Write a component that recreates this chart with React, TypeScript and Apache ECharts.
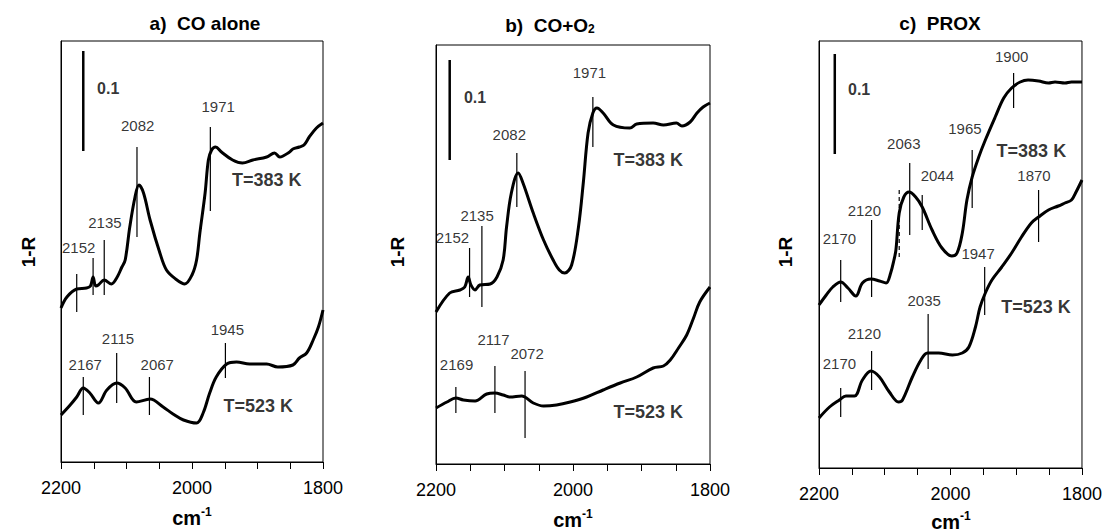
import React, { useEffect, useRef } from "react";
import * as echarts from "echarts";

type P = [number, number];
// ---- Panel a) CO alone ----
const curveA383: P[] = [
  [2200, 0.154], [2191, 0.165], [2176, 0.173], [2161, 0.174], [2155, 0.176], [2151, 0.185], [2147, 0.176],
  [2143, 0.177], [2134, 0.182], [2123, 0.178], [2115, 0.184], [2107, 0.195], [2102, 0.202], [2095, 0.235],
  [2087, 0.265], [2081, 0.277], [2074, 0.269], [2064, 0.242], [2049, 0.209], [2039, 0.192], [2025, 0.183],
  [2011, 0.178], [2000, 0.187], [1993, 0.202], [1988, 0.229], [1980, 0.269], [1975, 0.302], [1970, 0.312],
  [1964, 0.315], [1955, 0.31], [1938, 0.302], [1923, 0.299], [1907, 0.302], [1886, 0.305], [1874, 0.309],
  [1866, 0.305], [1851, 0.31], [1846, 0.313], [1836, 0.315], [1829, 0.317], [1821, 0.325], [1810, 0.334],
  [1800, 0.339],
];
const curveA523: P[] = [
  [2200, 0.047], [2186, 0.057], [2176, 0.065], [2166, 0.074], [2156, 0.069], [2143, 0.059], [2130, 0.072],
  [2115, 0.079], [2102, 0.074], [2085, 0.06], [2064, 0.063], [2044, 0.055], [2029, 0.048], [2013, 0.042],
  [1993, 0.039], [1983, 0.049], [1973, 0.069], [1963, 0.085], [1947, 0.098], [1932, 0.1], [1912, 0.098],
  [1886, 0.098], [1869, 0.095], [1846, 0.097], [1836, 0.104], [1825, 0.109], [1815, 0.122], [1807, 0.135],
  [1800, 0.152],
];
const markersA: [number, number, number][] = [
  [2176, 0.188, 0.15], [2151, 0.204, 0.167], [2134, 0.222, 0.167], [2084, 0.315, 0.225], [1972, 0.335, 0.251],
  [2166, 0.085, 0.047], [2115, 0.109, 0.059], [2065, 0.085, 0.047], [1949, 0.119, 0.084],
];
const peakLabelsA: [string, number, number][] = [
  ["2152", 2173, 0.215], ["2135", 2133, 0.24], ["2082", 2083, 0.337], ["1971", 1960, 0.356],
  ["2167", 2163, 0.098], ["2115", 2113, 0.124], ["2067", 2053, 0.098], ["1945", 1946, 0.133],
];
const tagsA: [string, number, number][] = [["T=383 K", 1886, 0.282], ["T=523 K", 1899, 0.056], ["0.1", 2128, 0.374]];
const scaleBarA: [number, number, number] = [2166, 0.411, 0.311];

// ---- Panel b) CO+O2 ----
const curveB383: P[] = [
  [2200, 0.152], [2180, 0.171], [2165, 0.174], [2158, 0.177], [2153, 0.187], [2149, 0.179], [2143, 0.174],
  [2136, 0.179], [2121, 0.18], [2111, 0.187], [2102, 0.204], [2097, 0.237], [2090, 0.271], [2080, 0.291],
  [2073, 0.281], [2058, 0.251], [2043, 0.224], [2029, 0.204], [2020, 0.194], [2012, 0.191], [2002, 0.199],
  [1992, 0.237], [1985, 0.281], [1978, 0.331], [1971, 0.351], [1965, 0.356], [1956, 0.351], [1941, 0.339],
  [1917, 0.336], [1907, 0.34], [1883, 0.341], [1868, 0.339], [1849, 0.341], [1841, 0.338], [1829, 0.342],
  [1819, 0.351], [1810, 0.357], [1800, 0.361],
];
const curveB523: P[] = [
  [2200, 0.056], [2184, 0.062], [2171, 0.066], [2160, 0.064], [2143, 0.063], [2126, 0.07], [2114, 0.071],
  [2102, 0.069], [2092, 0.067], [2075, 0.068], [2058, 0.061], [2043, 0.058], [2024, 0.059], [2004, 0.062],
  [1980, 0.067], [1956, 0.074], [1931, 0.081], [1907, 0.087], [1883, 0.096], [1868, 0.098], [1858, 0.104],
  [1846, 0.116], [1834, 0.129], [1824, 0.146], [1815, 0.162], [1800, 0.177],
];
const markersB: [number, number, number][] = [
  [2151, 0.216, 0.167], [2133, 0.238, 0.157], [2082, 0.311, 0.257], [1971, 0.367, 0.317],
  [2171, 0.077, 0.051], [2114, 0.098, 0.051], [2070, 0.093, 0.026],
];
const peakLabelsB: [string, number, number][] = [
  ["2152", 2176, 0.227], ["2135", 2140, 0.249], ["2082", 2093, 0.33], ["1971", 1976, 0.392],
  ["2169", 2170, 0.1], ["2117", 2116, 0.125], ["2072", 2067, 0.111],
];
const tagsB: [string, number, number][] = [["T=383 K", 1890, 0.304], ["T=523 K", 1890, 0.052], ["0.1", 2143, 0.367]];
const scaleBarB: [number, number, number] = [2180, 0.404, 0.304];

// ---- Panel c) PROX ----
const curveC383: P[] = [
  [2200, 0.163], [2189, 0.173], [2179, 0.181], [2167, 0.186], [2156, 0.18], [2144, 0.172], [2134, 0.185],
  [2121, 0.189], [2108, 0.187], [2098, 0.185], [2091, 0.195], [2086, 0.208], [2083, 0.218], [2078, 0.255],
  [2071, 0.271], [2063, 0.276], [2053, 0.271], [2043, 0.261], [2028, 0.238], [2013, 0.22], [1998, 0.212],
  [1990, 0.215], [1982, 0.235], [1975, 0.268], [1967, 0.291], [1957, 0.311], [1947, 0.328], [1932, 0.351],
  [1919, 0.37], [1907, 0.38], [1894, 0.386], [1882, 0.388], [1866, 0.387], [1851, 0.385], [1841, 0.386],
  [1826, 0.385], [1816, 0.386], [1800, 0.386],
];
const curveC523: P[] = [
  [2200, 0.05], [2184, 0.061], [2169, 0.068], [2159, 0.072], [2146, 0.072], [2134, 0.088], [2121, 0.097],
  [2108, 0.091], [2093, 0.076], [2079, 0.066], [2073, 0.068], [2058, 0.091], [2045, 0.108], [2035, 0.115],
  [2018, 0.115], [1997, 0.113], [1982, 0.115], [1972, 0.121], [1962, 0.141], [1955, 0.161], [1947, 0.175],
  [1937, 0.188], [1922, 0.201], [1907, 0.215], [1892, 0.231], [1877, 0.245], [1866, 0.251], [1851, 0.258],
  [1836, 0.262], [1826, 0.265], [1816, 0.268], [1809, 0.276], [1800, 0.288],
];
const markersC: [number, number, number][] = [
  [2167, 0.208, 0.166], [2120, 0.248, 0.171], [2062, 0.305, 0.233], [2043, 0.273, 0.238], [1967, 0.318, 0.26],
  [1904, 0.395, 0.36], [1866, 0.278, 0.226], [1948, 0.201, 0.153], [2167, 0.08, 0.051], [2120, 0.117, 0.078],
  [2034, 0.154, 0.099],
];
const dashedMarkersC: [number, number, number][] = [[2078, 0.278, 0.208]];
const peakLabelsC: [string, number, number][] = [
  ["2170", 2169, 0.23], ["2120", 2131, 0.258], ["2063", 2071, 0.325], ["2044", 2020, 0.293], ["1965", 1978, 0.34],
  ["1900", 1907, 0.412], ["1870", 1873, 0.293], ["1947", 1958, 0.215], ["2170", 2169, 0.105], ["2120", 2131, 0.135],
  ["2035", 2040, 0.168],
];
const tagsC: [string, number, number][] = [["T=383 K", 1877, 0.317], ["T=523 K", 1870, 0.161], ["0.1", 2139, 0.379]];
const scaleBarC: [number, number, number] = [2176, 0.414, 0.314];

const xTicks = { min: 1800, max: 2200, interval: 50, labelStep: 200 };

const FONT = '"Liberation Sans", Arial, Helvetica, sans-serif';

const panels = [
  { grid: { left: 61, top: 41, width: 262, height: 421 }, ymax: 0.421, curves: [curveA383, curveA523], markers: markersA, dashed: [] as [number, number, number][], peaks: peakLabelsA, tags: tagsA, bar: scaleBarA,
    title: "a)  CO alone", titlePos: [205, 23], yName: [28, 252], xName: [192, 518] },
  { grid: { left: 436, top: 45, width: 274, height: 419 }, ymax: 0.419, curves: [curveB383, curveB523], markers: markersB, dashed: [] as [number, number, number][], peaks: peakLabelsB, tags: tagsB, bar: scaleBarB,
    title: "b)  CO+O{sub|2}", titlePos: [550, 25], yName: [397, 252], xName: [573, 520] },
  { grid: { left: 819, top: 41, width: 265, height: 427 }, ymax: 0.427, curves: [curveC383, curveC523], markers: markersC, dashed: dashedMarkersC, peaks: peakLabelsC, tags: tagsC, bar: scaleBarC,
    title: "c)  PROX", titlePos: [940, 23], yName: [785, 252], xName: [951, 522] },
];

function buildOption() {
  const grid: any[] = [];
  const xAxis: any[] = [];
  const yAxis: any[] = [];
  const series: any[] = [];
  const graphic: any[] = [];
  panels.forEach((p, i) => {
    grid.push({ ...p.grid, show: true, borderColor: "#000", borderWidth: 1, backgroundColor: "transparent" });
    xAxis.push({
      type: "value", gridIndex: i, inverse: true, min: xTicks.min, max: xTicks.max, interval: xTicks.interval,
      axisLine: { show: true, lineStyle: { color: "#000", width: 1 } },
      axisTick: { show: true, inside: false, length: 7, lineStyle: { color: "#000", width: 1 } },
      axisLabel: { show: true, margin: 17, color: "#000", fontSize: 18, fontFamily: FONT,
        formatter: (v: number) => (v % xTicks.labelStep === 0 ? String(v) : "") },
      splitLine: { show: false },
    });
    yAxis.push({
      type: "value", gridIndex: i, min: 0, max: p.ymax,
      axisLine: { show: true, lineStyle: { color: "#000" } }, axisTick: { show: false },
      axisLabel: { show: false }, splitLine: { show: false },
    });
    p.curves.forEach((c) => {
      series.push({ type: "line", xAxisIndex: i, yAxisIndex: i, data: c, showSymbol: false, smooth: 0.35,
        lineStyle: { color: "#000", width: 3 }, silent: true, z: 3 });
    });
    p.markers.forEach((m) => {
      series.push({ type: "line", xAxisIndex: i, yAxisIndex: i, data: [[m[0], m[1]], [m[0], m[2]]], showSymbol: false,
        lineStyle: { color: "#000", width: 1.2 }, silent: true, z: 4 });
    });
    p.dashed.forEach((m) => {
      series.push({ type: "line", xAxisIndex: i, yAxisIndex: i, data: [[m[0], m[1]], [m[0], m[2]]], showSymbol: false,
        lineStyle: { color: "#000", width: 1.2, type: [4, 3] }, silent: true, z: 4 });
    });
    series.push({ type: "line", xAxisIndex: i, yAxisIndex: i, data: [[p.bar[0], p.bar[1]], [p.bar[0], p.bar[2]]], showSymbol: false,
      lineStyle: { color: "#000", width: 2.5 }, silent: true, z: 4 });
    series.push({
      type: "scatter", xAxisIndex: i, yAxisIndex: i, symbolSize: 1, itemStyle: { color: "rgba(0,0,0,0)" }, silent: true, z: 5,
      data: p.peaks.map((l) => ({ value: [l[1], l[2]], name: l[0] })),
      label: { show: true, position: "inside", formatter: "{b}", color: "#000", fontSize: 15, fontFamily: FONT },
    });
    series.push({
      type: "scatter", xAxisIndex: i, yAxisIndex: i, symbolSize: 1, itemStyle: { color: "rgba(0,0,0,0)" }, silent: true, z: 5,
      data: p.tags.map((l) => ({ value: [l[1], l[2]], name: l[0],
        label: { fontSize: l[0] === "0.1" ? 16 : 18 } })),
      label: { show: true, position: "inside", formatter: "{b}", color: "#000", fontWeight: "bold", fontSize: 18, fontFamily: FONT },
    });
    graphic.push({
      type: "text", x: p.titlePos[0], y: p.titlePos[1],
      style: { text: p.title, align: "center", verticalAlign: "middle", fill: "#000", fontSize: 19, fontWeight: "bold", fontFamily: FONT,
        rich: { sub: { fontSize: 12, fontWeight: "bold", fontFamily: FONT, verticalAlign: "bottom", fill: "#000" } } },
    });
    graphic.push({
      type: "text", x: p.yName[0], y: p.yName[1], rotation: Math.PI / 2,
      style: { text: "1-R", align: "center", verticalAlign: "middle", fill: "#000", fontSize: 19, fontWeight: "bold", fontFamily: FONT },
    });
    graphic.push({
      type: "text", x: p.xName[0], y: p.xName[1],
      style: { text: "{m|cm}{s|-1}", align: "center", verticalAlign: "middle", fill: "#000",
        rich: {
          m: { fontSize: 20, fontWeight: "bold", fontFamily: FONT, fill: "#000", lineHeight: 24 },
          s: { fontSize: 12, fontWeight: "bold", fontFamily: FONT, fill: "#000", verticalAlign: "top" },
        } },
    });
  });
  return { animation: false, backgroundColor: "#fff", grid, xAxis, yAxis, series, graphic };
}

export default function App() {
  const ref = useRef<HTMLDivElement>(null);
  useEffect(() => {
    document.body.style.margin = "0";
    const chart = echarts.init(ref.current!, undefined, { renderer: "svg" });
    chart.setOption(buildOption() as any);
    return () => chart.dispose();
  }, []);
  return <div ref={ref} style={{ width: 1105, height: 532 }} />;
}
